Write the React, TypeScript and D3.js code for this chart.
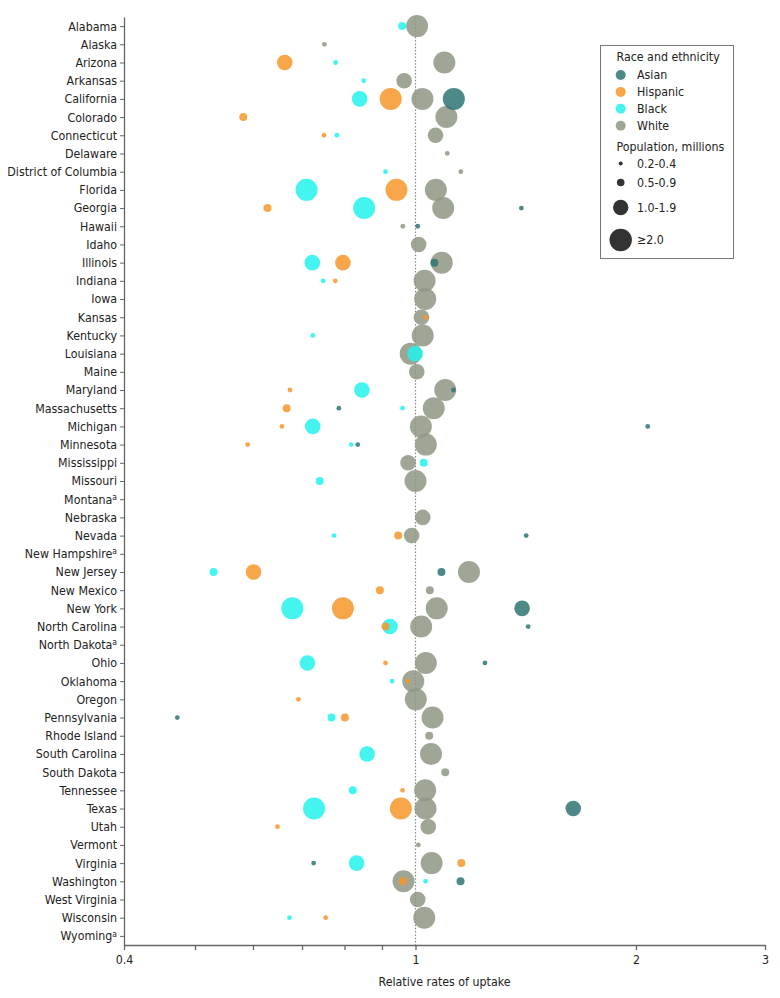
import React, { useEffect, useRef } from "react";
import * as d3 from "d3";

const states = [
  "Alabama", "Alaska", "Arizona", "Arkansas", "California", "Colorado", "Connecticut",
  "Delaware", "District of Columbia", "Florida", "Georgia", "Hawaii", "Idaho", "Illinois",
  "Indiana", "Iowa", "Kansas", "Kentucky", "Louisiana", "Maine", "Maryland", "Massachusetts",
  "Michigan", "Minnesota", "Mississippi", "Missouri", "Montana", "Nebraska", "Nevada",
  "New Hampshire", "New Jersey", "New Mexico", "New York", "North Carolina", "North Dakota",
  "Ohio", "Oklahoma", "Oregon", "Pennsylvania", "Rhode Island", "South Carolina",
  "South Dakota", "Tennessee", "Texas", "Utah", "Vermont", "Virginia", "Washington",
  "West Virginia", "Wisconsin", "Wyoming",
];
const footnoted = ["Montana", "New Hampshire", "North Dakota", "Wyoming"];

const groups = ["Asian", "Hispanic", "Black", "White"];
const groupColors = ["#2e7471", "#f7962a", "#22f2ec", "#8f9784"];
const sizeBins = ["0.2-0.4", "0.5-0.9", "1.0-1.9", "≥2.0"];

// [state, relative rate, population bin index]
const asian: [string, number, number][] = [
  ["California", 1.128, 3], ["Georgia", 1.395, 0], ["Hawaii", 1.007, 0], ["Illinois", 1.061, 1],
  ["Maryland", 1.127, 0], ["Massachusetts", 0.786, 0], ["Michigan", 2.075, 0], ["Minnesota", 0.834, 0],
  ["Nevada", 1.416, 0], ["New Jersey", 1.085, 1], ["New York", 1.398, 2], ["North Carolina", 1.425, 0],
  ["Ohio", 1.244, 0], ["Pennsylvania", 0.473, 0], ["Texas", 1.642, 2], ["Virginia", 0.726, 0],
  ["Washington", 1.152, 1],
];
const hispanic: [string, number, number][] = [
  ["Arizona", 0.663, 2], ["California", 0.925, 3], ["Colorado", 0.582, 1], ["Connecticut", 0.75, 0],
  ["Florida", 0.942, 3], ["Georgia", 0.628, 1], ["Illinois", 0.796, 2], ["Indiana", 0.777, 0],
  ["Kansas", 1.031, 0], ["Maryland", 0.674, 0], ["Massachusetts", 0.667, 1], ["Michigan", 0.657, 0],
  ["Minnesota", 0.59, 0], ["Nevada", 0.947, 1], ["New Jersey", 0.601, 2], ["New Mexico", 0.894, 1],
  ["New York", 0.796, 3], ["North Carolina", 0.91, 1], ["Ohio", 0.91, 0], ["Oklahoma", 0.977, 0],
  ["Oregon", 0.692, 0], ["Pennsylvania", 0.801, 1], ["Tennessee", 0.96, 0], ["Texas", 0.955, 3],
  ["Utah", 0.648, 0], ["Virginia", 1.155, 1], ["Washington", 0.961, 1], ["Wisconsin", 0.754, 0],
];
const black: [string, number, number][] = [
  ["Alabama", 0.959, 1], ["Arizona", 0.778, 0], ["Arkansas", 0.85, 0], ["California", 0.839, 2],
  ["Connecticut", 0.781, 0], ["District of Columbia", 0.91, 0], ["Florida", 0.71, 3], ["Georgia", 0.851, 3],
  ["Illinois", 0.723, 2], ["Indiana", 0.748, 0], ["Kentucky", 0.724, 0], ["Louisiana", 0.999, 2],
  ["Maryland", 0.845, 2], ["Massachusetts", 0.96, 0], ["Michigan", 0.724, 2], ["Minnesota", 0.817, 0],
  ["Mississippi", 1.026, 1], ["Missouri", 0.74, 1], ["Nevada", 0.774, 0], ["New Jersey", 0.53, 1],
  ["New York", 0.679, 3], ["North Carolina", 0.923, 2], ["Ohio", 0.712, 2], ["Oklahoma", 0.929, 0],
  ["Pennsylvania", 0.768, 1], ["South Carolina", 0.859, 2], ["Tennessee", 0.821, 1], ["Texas", 0.727, 3],
  ["Virginia", 0.831, 2], ["Washington", 1.032, 0], ["Wisconsin", 0.673, 0],
];
const white: [string, number, number][] = [
  ["Alabama", 1.005, 3], ["Alaska", 0.751, 0], ["Arizona", 1.095, 3], ["Arkansas", 0.965, 2],
  ["California", 1.022, 3], ["Colorado", 1.102, 3], ["Connecticut", 1.065, 2], ["Delaware", 1.105, 0],
  ["District of Columbia", 1.153, 0], ["Florida", 1.066, 3], ["Georgia", 1.091, 3], ["Hawaii", 0.961, 0],
  ["Idaho", 1.01, 2], ["Illinois", 1.086, 3], ["Indiana", 1.029, 3], ["Iowa", 1.031, 3],
  ["Kansas", 1.019, 2], ["Kentucky", 1.023, 3], ["Louisiana", 0.985, 3], ["Maine", 1.004, 2],
  ["Maryland", 1.098, 3], ["Massachusetts", 1.059, 3], ["Michigan", 1.017, 3], ["Minnesota", 1.033, 3],
  ["Mississippi", 0.977, 2], ["Missouri", 1.0, 3], ["Nebraska", 1.023, 2], ["Nevada", 0.988, 2],
  ["New Jersey", 1.183, 3], ["New Mexico", 1.046, 1], ["New York", 1.069, 3], ["North Carolina", 1.018, 3],
  ["Ohio", 1.033, 3], ["Oklahoma", 0.993, 3], ["Oregon", 1.001, 3], ["Pennsylvania", 1.055, 3],
  ["Rhode Island", 1.044, 1], ["South Carolina", 1.05, 3], ["South Dakota", 1.098, 1], ["Tennessee", 1.031, 3],
  ["Texas", 1.032, 3], ["Utah", 1.041, 2], ["Vermont", 1.009, 0], ["Virginia", 1.052, 3],
  ["Washington", 0.963, 3], ["West Virginia", 1.007, 2], ["Wisconsin", 1.028, 3],
];

const xTicks = [0.4, 0.5, 0.6, 0.7, 0.8, 0.9, 1, 2, 3];
const xTickLabels = [0.4, 1, 2, 3];

const FONT = "'Liberation Sans Narrow', 'Arial Narrow', 'DejaVu Sans Condensed', sans-serif";
const FS = 12.3;

export default function App() {
  const ref = useRef<SVGSVGElement>(null);

  useEffect(() => {
    const svg = d3.select(ref.current);
    svg.selectAll("*").remove();

    const x = d3.scaleLog().domain([0.4, 3]).range([124, 765]);
    const y = d3.scalePoint<string>().domain(states).range([17, 945]).padding(0.5);
    const color = d3.scaleOrdinal<string, string>().domain(groups).range(groupColors);
    const radius = d3.scaleOrdinal<number, number>().domain([0, 1, 2, 3]).range([2.4, 4, 7.8, 11]);

    // reference line at 1
    svg.append("line")
      .attr("x1", x(1)).attr("x2", x(1)).attr("y1", 17).attr("y2", 945)
      .attr("stroke", "#888").attr("stroke-width", 1.2).attr("stroke-dasharray", "1.5,1.8");

    // points
    const series = [asian, hispanic, black, white];
    const points: { state: string; v: number; s: number; g: string; gi: number }[] = [];
    series.forEach((arr, gi) => arr.forEach(([state, v, s]) => points.push({ state, v, s, g: groups[gi], gi })));
    points.sort((a, b) => b.s - a.s || b.gi - a.gi);

    svg.append("g").selectAll("circle").data(points).join("circle")
      .attr("cx", (d) => x(d.v))
      .attr("cy", (d) => y(d.state)!)
      .attr("r", (d) => radius(d.s))
      .attr("fill", (d) => color(d.g))
      .attr("fill-opacity", 0.85);

    // x axis
    const xAxis = d3.axisBottom(x)
      .tickValues(xTicks)
      .tickFormat((d) => (xTickLabels.includes(+d) ? String(+d) : ""))
      .tickSize(5).tickSizeOuter(0).tickPadding(5);
    const gx = svg.append("g").attr("transform", "translate(0,945)").call(xAxis);
    gx.select(".domain").attr("stroke", "#666").attr("stroke-width", 1.3);
    gx.selectAll(".tick line").attr("stroke", "#666").attr("stroke-width", 1.3);
    gx.selectAll(".tick text").attr("font-family", FONT).attr("font-size", FS).attr("fill", "#222");

    svg.append("text")
      .attr("x", (x.range()[0] + x.range()[1]) / 2).attr("y", 986)
      .attr("text-anchor", "middle")
      .attr("font-family", FONT).attr("font-size", FS).attr("fill", "#222")
      .text("Relative rates of uptake");

    // y axis
    const yAxis = d3.axisLeft(y).tickSize(4).tickSizeOuter(0).tickPadding(3);
    const gy = svg.append("g").attr("transform", "translate(124,0)").call(yAxis);
    gy.select(".domain").attr("stroke", "#666").attr("stroke-width", 1.3);
    gy.selectAll(".tick line").attr("stroke", "#666").attr("stroke-width", 1);
    gy.selectAll<SVGTextElement, string>(".tick text")
      .attr("font-family", FONT).attr("font-size", FS).attr("fill", "#222")
      .each(function (d) {
        if (footnoted.includes(d)) {
          const t = d3.select(this);
          t.text(d);
          t.append("tspan").attr("font-size", 8.5).attr("dy", "-0.45em").text("a");
        }
      });

    // legend
    const lg = svg.append("g");
    lg.append("rect").attr("x", 600.5).attr("y", 45.5).attr("width", 133).attr("height", 213)
      .attr("fill", "white").attr("stroke", "#777").attr("stroke-width", 1);
    const tx = (s: string, xx: number, yy: number) =>
      lg.append("text").attr("x", xx).attr("y", yy).attr("dominant-baseline", "central")
        .attr("font-family", FONT).attr("font-size", FS).attr("fill", "#222").text(s);
    tx("Race and ethnicity", 616.5, 57);
    groups.forEach((g, i) => {
      const yy = 75 + i * 16.9;
      lg.append("circle").attr("cx", 620.7).attr("cy", yy).attr("r", 5).attr("fill", color(g)).attr("fill-opacity", 0.85);
      tx(g, 637, yy);
    });
    tx("Population, millions", 616.5, 147);
    const legendSizeY = [163.5, 182.5, 207.5, 240];
    const legendR = [2, 3.8, 7.7, 11.2];
    sizeBins.forEach((b, i) => {
      lg.append("circle").attr("cx", 620.7).attr("cy", legendSizeY[i]).attr("r", legendR[i]).attr("fill", "#333");
      tx(b, 637, legendSizeY[i]);
    });
  }, []);

  return (
    <svg ref={ref} width={780} height={998}
      style={{ position: "absolute", left: 0, top: 0, background: "white" }} />
  );
}
